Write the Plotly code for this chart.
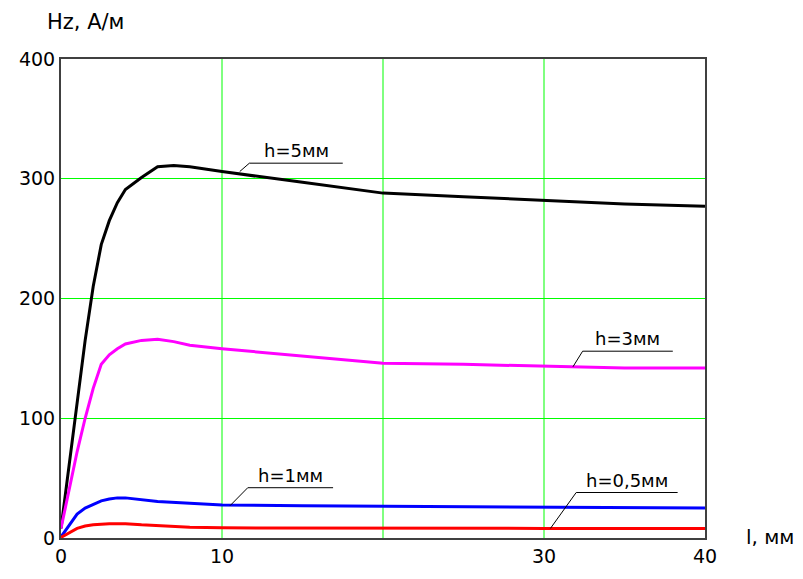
import plotly.graph_objects as go

# Data (l in mm, Hz in A/m)
x_h5 = [0, 0.5, 1, 1.5, 2, 2.5, 3, 3.5, 4, 5, 6, 7, 8, 10, 15, 20, 25, 30, 35, 40]
y_h5 = [8, 60, 115, 165, 210, 245, 265, 280, 291, 301, 310, 311, 310, 306, 297, 288, 285, 282, 279, 277]

x_h3 = [0, 0.5, 1, 1.5, 2, 2.5, 3, 3.5, 4, 5, 6, 7, 8, 10, 15, 20, 25, 30, 35, 40]
y_h3 = [8, 40, 72, 100, 125, 145, 153, 158, 162, 165, 166, 164, 161, 158, 152, 146, 145, 143.5, 142, 142]

x_h1 = [0, 0.5, 1, 1.5, 2, 2.5, 3, 3.5, 4, 5, 6, 8, 10, 15, 20, 30, 40]
y_h1 = [1, 10, 20, 25, 28, 31, 32.5, 33.5, 33.5, 32, 30.5, 29, 27.5, 27, 26.5, 25.5, 25]

x_h05 = [0, 0.5, 1, 1.5, 2, 3, 4, 5, 8, 10, 20, 30, 40]
y_h05 = [0.5, 4, 8, 10, 11, 12, 12, 11, 9, 8.5, 8, 8, 8]

series_names = ["h=5мм", "h=3мм", "h=1мм", "h=0,5мм"]
series_colors = ["#000000", "#FF00FF", "#0000FF", "#FF0000"]

# Label placement: (underline start x, underline end x, underline y, leader end x, leader end y)
label_lines = [
    (11.7, 17.5, 313, 11.1, 306),
    (32.4, 38.0, 156, 31.8, 143),
    (11.6, 16.9, 42, 10.5, 27),
    (32.0, 38.3, 38, 30.4, 8),
]

x_tickvals = [0, 10, 30, 40]
x_ticktext = ["0", "10", "30", "40"]
x_grid = [10, 20, 30]
y_tickvals = [0, 100, 200, 300, 400]
y_ticktext = ["0", "100", "200", "300", "400"]

FONT = "DejaVu Sans"
GRID = "#00FF00"
PAGE_OFFSET = 8  # default body margin of the html page

fig = go.Figure()

# vertical grid lines drawn as shapes (below the data)
for gx in x_grid:
    fig.add_shape(type="line", x0=gx, x1=gx, y0=0, y1=1, xref="x", yref="paper",
                  layer="below", line=dict(color=GRID, width=1))

for xs, ys, name, col in zip([x_h5, x_h3, x_h1, x_h05], [y_h5, y_h3, y_h1, y_h05],
                             series_names, series_colors):
    fig.add_trace(go.Scatter(x=xs, y=ys, mode="lines", name=name,
                             line=dict(color=col, width=3), showlegend=False))

for name, (x0, x1, yl, xe, ye) in zip(series_names, label_lines):
    fig.add_shape(type="line", x0=x0, x1=x1, y0=yl, y1=yl, xref="x", yref="y",
                  line=dict(color="#000000", width=1))
    fig.add_shape(type="line", x0=x0, x1=xe, y0=yl, y1=ye, xref="x", yref="y",
                  line=dict(color="#000000", width=1))
    fig.add_annotation(x=(x0 + x1) / 2, y=yl, xref="x", yref="y", text=name,
                       showarrow=False, yanchor="bottom", yshift=0,
                       font=dict(family=FONT, size=18, color="#000000"))

W, H = 803 - PAGE_OFFSET, 579 - PAGE_OFFSET
ml, mr, mt, mb = 61 - PAGE_OFFSET, 98, 59 - PAGE_OFFSET, 41
pw, ph = W - ml - mr, H - mt - mb


def paper_xy(px, py):
    fx, fy = px - PAGE_OFFSET, py - PAGE_OFFSET
    return (fx - ml) / pw, 1 - (fy - mt) / ph


tx, ty = paper_xy(85, 22)
fig.add_annotation(x=tx, y=ty, xref="paper", yref="paper", text="Hz, A/м",
                   showarrow=False, xanchor="center", yanchor="middle",
                   font=dict(family=FONT, size=21, color="#000000"))
tx, ty = paper_xy(770, 537)
fig.add_annotation(x=tx, y=ty, xref="paper", yref="paper", text="l, мм",
                   showarrow=False, xanchor="center", yanchor="middle",
                   font=dict(family=FONT, size=20, color="#000000"))

fig.update_layout(
    width=W, height=H,
    margin=dict(l=ml, r=mr, t=mt, b=mb),
    paper_bgcolor="white", plot_bgcolor="white",
    font=dict(family=FONT, size=19, color="#000000"),
    xaxis=dict(range=[0, 40], tickmode="array", tickvals=x_tickvals, ticktext=x_ticktext,
               showgrid=False,
               showline=True, linecolor="#404040", linewidth=2, mirror=True,
               zeroline=False, ticks="", ticklen=0, tickfont=dict(size=19)),
    yaxis=dict(range=[0, 400], tickvals=y_tickvals, ticktext=y_ticktext,
               showgrid=True, gridcolor=GRID, gridwidth=1,
               showline=True, linecolor="#404040", linewidth=2, mirror=True,
               zeroline=False, ticks="", ticklen=0, tickfont=dict(size=19)),
)

fig.write_html("out.html")
